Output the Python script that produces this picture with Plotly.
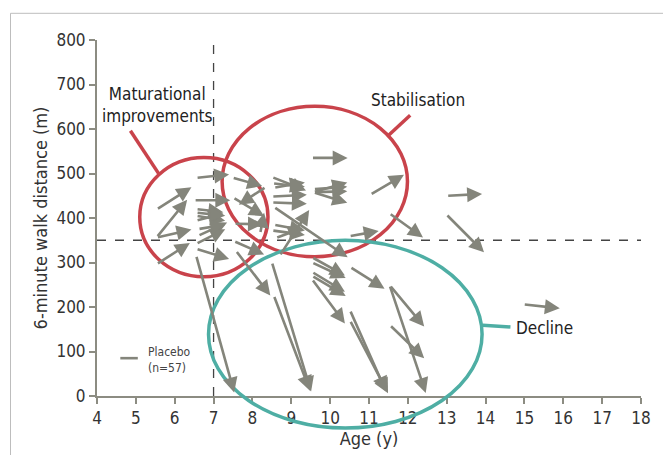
import plotly.graph_objects as go

# Each placebo patient: baseline (age, 6MWD) -> follow-up (age, 6MWD)
start_age = [5.53, 5.53, 5.53, 5.53,
             6.55, 6.50, 6.55, 6.55, 6.55, 6.60, 6.55, 6.55, 6.55, 6.60, 6.55,
             7.48, 8.35, 7.50, 7.53, 7.52, 7.57, 8.20,
             8.50, 8.55, 8.50, 8.50, 8.55, 8.50, 8.55, 8.60, 8.70, 8.50, 8.55, 8.52,
             9.52, 9.57, 9.57, 9.57, 9.57, 9.53, 9.53, 9.53, 9.53, 9.53,
             10.49, 10.51, 10.51, 10.51,
             11.03, 11.52, 11.53, 11.53, 11.53,
             13.00, 12.98, 14.97]
start_6mwd = [296, 356, 356, 419,
              490, 440, 420, 405, 394, 360, 342, 331, 316, 375, 412,
              491, 470, 446, 387, 348, 327, 365,
              492, 468, 448, 435, 425, 372, 385, 355, 315, 301, 226, 478,
              535, 458, 458, 458, 465, 312, 300, 279, 270, 263,
              359, 290, 193, 170,
              452, 411, 249, 249, 160,
              450, 409, 206]
end_age = [6.39, 6.43, 6.32, 6.43,
           7.40, 7.43, 7.25, 7.30, 7.25, 7.35, 7.30, 7.40, 7.53, 7.30, 7.30,
           8.25, 7.65, 8.30, 8.27, 8.30, 8.46, 8.30,
           9.38, 9.35, 9.40, 9.40, 10.45, 9.35, 9.35, 9.30, 9.46, 9.51, 9.48, 9.35,
           10.45, 10.44, 10.44, 10.44, 10.44, 10.38, 10.40, 10.38, 10.40, 10.38,
           11.25, 11.40, 11.44, 11.49,
           11.90, 12.39, 12.42, 12.46, 12.42,
           13.91, 13.96, 15.91]
end_6mwd = [344, 374, 441, 469,
            498, 440, 413, 394, 410, 390, 375, 308, 8, 385, 405,
            472, 430, 404, 386, 318, 226, 412,
            462, 480, 452, 432, 312, 362, 372, 378, 418, 10, 12, 470,
            535, 480, 460, 434, 470, 271, 265, 234, 225, 163,
            371, 241, 10, 6,
            497, 356, 156, 7, 85,
            454, 323, 197]

x_ticks = list(range(4, 19))
y_ticks = list(range(0, 801, 100))
x_range = [4, 18]
y_range = [0, 800]

ARROW = "#84857b"
RED = "#c9434b"
TEAL = "#4eaea4"
AXIS = "#8c8c82"
FONT = "DejaVu Sans Condensed, Liberation Sans, sans-serif"


def px(x):
    return (x - x_range[0]) / (x_range[1] - x_range[0])


def py(y):
    return (y - y_range[0]) / (y_range[1] - y_range[0])


fig = go.Figure()
fig.add_trace(go.Scatter(x=[None], y=[None], showlegend=False))

annotations = []
for x0, y0, x1, y1 in zip(start_age, start_6mwd, end_age, end_6mwd):
    annotations.append(dict(
        x=x1, y=y1, ax=x0, ay=y0, xref="x", yref="y", axref="x", ayref="y",
        text="", showarrow=True, arrowhead=2, arrowsize=1.15, arrowwidth=2.6,
        arrowcolor=ARROW, standoff=0,
    ))

# Group labels
annotations += [
    dict(x=5.55, y=655, xref="x", yref="y", text="Maturational<br>improvements",
         showarrow=False, font=dict(family=FONT, size=17, color="#222"),
         align="center"),
    dict(x=12.25, y=665, xref="x", yref="y", text="Stabilisation",
         showarrow=False, font=dict(family=FONT, size=17, color="#222")),
    dict(x=14.72, y=152, xref="x", yref="y", text="Decline", xanchor="left",
         showarrow=False, font=dict(family=FONT, size=17, color="#222")),
    dict(x=5.25, y=80, xref="x", yref="y", text="Placebo<br>(n=57)", xanchor="left",
         align="left", showarrow=False,
         font=dict(family=FONT, size=12, color="#444")),
]

shapes = [
    # reference lines
    dict(type="line", xref="x", yref="y", x0=7, x1=7, y0=0, y1=800,
         line=dict(color="#444", width=1.3, dash="dash")),
    dict(type="line", xref="x", yref="y", x0=4, x1=18, y0=350, y1=350,
         line=dict(color="#444", width=1.3, dash="dash")),
    # group ellipses
    dict(type="circle", xref="paper", yref="paper", x0=px(5.1), x1=px(8.4),
         y0=py(268), y1=py(536), line=dict(color=RED, width=3.5)),
    dict(type="circle", xref="paper", yref="paper", x0=px(7.22), x1=px(11.99),
         y0=py(313), y1=py(651), line=dict(color=RED, width=3.5)),
    dict(type="circle", xref="paper", yref="paper", x0=px(6.87), x1=px(13.91),
         y0=py(-72), y1=py(350), line=dict(color=TEAL, width=3.5)),
    # label leaders
    dict(type="line", xref="paper", yref="paper", x0=px(4.86), y0=py(596),
         x1=px(5.6), y1=py(498), line=dict(color=RED, width=3.5)),
    dict(type="line", xref="paper", yref="paper", x0=px(12.06), y0=py(631),
         x1=px(11.47), y1=py(583), line=dict(color=RED, width=3.5)),
    dict(type="line", xref="paper", yref="paper", x0=px(13.93), y0=py(159),
         x1=px(14.64), y1=py(155), line=dict(color=TEAL, width=3.5)),
    # legend sample
    dict(type="line", xref="paper", yref="paper", x0=px(4.6), x1=px(5.05),
         y0=py(85), y1=py(85), line=dict(color=ARROW, width=2.6)),
    # outer frame
    dict(type="rect", xref="paper", yref="paper", x0=-0.159, x1=1.06,
         y0=-0.2, y1=1.075, line=dict(color="#bdbdbd", width=1)),
]

fig.update_layout(
    width=663, height=455,
    margin=dict(l=97, r=18, t=40, b=57),
    plot_bgcolor="white", paper_bgcolor="white",
    font=dict(family=FONT, size=15, color="#333"),
    showlegend=False,
    annotations=annotations, shapes=shapes,
    xaxis=dict(range=x_range, tickvals=x_ticks, showgrid=False, zeroline=False,
               showline=True, linecolor=AXIS, linewidth=2, ticks="outside",
               tickcolor=AXIS, tickwidth=2, ticklen=6,
               title=dict(text="Age (y)", standoff=2,
                          font=dict(family=FONT, size=18, color="#333")),
               tickfont=dict(family=FONT, size=17, color="#333")),
    yaxis=dict(range=y_range, tickvals=y_ticks, showgrid=False, zeroline=False,
               showline=True, linecolor=AXIS, linewidth=2, ticks="outside",
               tickcolor=AXIS, tickwidth=2, ticklen=6,
               title=dict(text="6-minute walk distance (m)", standoff=4,
                          font=dict(family=FONT, size=18, color="#333")),
               tickfont=dict(family=FONT, size=17, color="#333")),
)

fig.write_html("out.html")
